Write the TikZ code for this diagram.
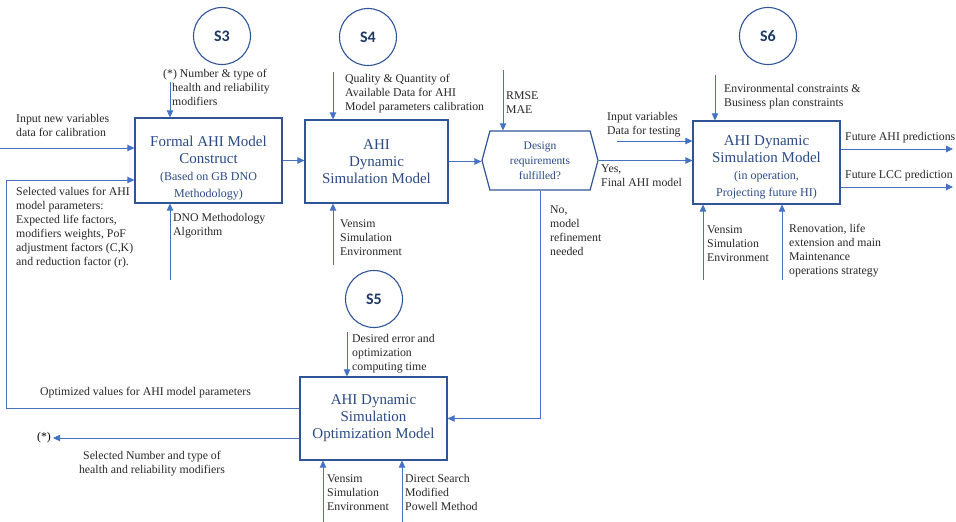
\documentclass[tikz,border=0pt]{standalone}
\usepackage{fontspec}
\setmainfont{Liberation Serif}
\newfontfamily\carlito{Carlito}
\usetikzlibrary{arrows.meta,shapes.symbols}
\definecolor{linkblue}{HTML}{4472C4}
\definecolor{boxblue}{HTML}{2F5597}
\definecolor{textblue}{HTML}{2B4A86}
\definecolor{stagenavy}{HTML}{1F3864}

\begin{document}
\begin{tikzpicture}[x=1pt,y=-1pt]
	\tikzstyle{stage}=[circle,draw=boxblue,line width=1.1pt,minimum size=57pt,inner sep=0pt,text=stagenavy,font=\carlito\bfseries\fontsize{16}{16}\selectfont]
	\tikzstyle{block}=[rectangle,draw=boxblue,line width=1.2pt,inner sep=0pt,align=center,text=textblue,font=\fontsize{15}{17}\selectfont]
	\tikzstyle{decision}=[signal,signal to=west and east,signal pointer angle=150,draw=boxblue,line width=1.2pt,inner sep=0pt,minimum width=116pt,minimum height=59pt,align=center,text=textblue,font=\fontsize{11.5}{15}\selectfont]
	\tikzstyle{note}=[anchor=north west,align=left,inner sep=0pt,text=black!85,font=\fontsize{11.8}{14}\selectfont]
	\tikzstyle{edge}=[draw=linkblue,line width=0.9pt,-{Triangle[length=7pt,width=6.5pt]}]

	\useasboundingbox (0,0) rectangle (956,522);

	\begin{scope}
		% stages
		\node [stage] (s3) at (222,36) {S3};
		\node [stage] (s4) at (368,37) {S4};
		\node [stage] (s6) at (768,36) {S6};
		\node [stage] (s5) at (374,299) {S5};

		% models
		\node [block,minimum width=147pt,minimum height=85pt] (formal) at (208.5,160.5)
			{\rule{0pt}{25pt}Formal AHI Model\\Construct\\\fontsize{12}{14.5}\selectfont (Based on GB DNO\\\fontsize{12}{14.5}\selectfont Methodology)};
		\node [block,minimum width=143pt,minimum height=83pt] (dynsim) at (376.5,161.5)
			{AHI\\Dynamic\\Simulation Model};
		\node [decision] (design) at (540,160.5) {Design\\requirements\\fulfilled?};
		\node [block,minimum width=147pt,minimum height=83pt] (operation) at (766.5,162.5)
			{\rule{0pt}{19pt}AHI Dynamic\\Simulation Model\\\fontsize{12}{14.5}\selectfont (in operation,\\\fontsize{12}{14.5}\selectfont Projecting future HI)};
		\node [block,minimum width=147pt,minimum height=83pt] (optim) at (373.5,418.5)
			{AHI Dynamic\\Simulation\\Optimization Model};

		% inputs and outputs
		\node [note] (numtype) at (163,69) {(*) Number \& type  of\\\hspace*{9pt}health and reliability\\\hspace*{9pt}modifiers};
		\node [note] (newin) at (16,114) {Input new variables\\data for calibration};
		\node [note] (selvals) at (16,187) {Selected values for AHI\\model  parameters:\\Expected life factors,\\modifiers weights, PoF\\adjustment factors (C,K)\\and reduction factor (r).};
		\node [note] (dno) at (173,213) {DNO Methodology\\Algorithm};
		\node [note] (quality) at (345,74) {Quality \& Quantity of\\Available Data for AHI\\Model parameters calibration};
		\node [note] (vensimA) at (340,219) {Vensim\\Simulation\\Environment};
		\node [note] (errs) at (506,91) {RMSE\\MAE};
		\node [note] (no) at (550,206) {No,\\model\\refinement\\needed};
		\node [note] (yes) at (601,165) {Yes,\\Final AHI model};
		\node [note] (testin) at (607,112) {Input variables\\Data for testing};
		\node [note] (constr) at (724,84) {Environmental constraints \&\\Business plan constraints};
		\node [note] (futahi) at (845,132) {Future AHI predictions};
		\node [note] (futlcc) at (845,170) {Future LCC prediction};
		\node [note] (vensimB) at (707,225) {Vensim\\Simulation\\Environment};
		\node [note] (renov) at (789,224) {Renovation, life\\extension and main\\Maintenance\\operations strategy};
		\node [note] (desired) at (352,334) {Desired error and\\optimization\\computing time};
		\node [note] (optvals) at (40,387) {Optimized values for AHI model parameters};
		\node [note,anchor=north,align=center] (selnum) at (152,451) {Selected Number and type of\\health and reliability modifiers};
		\node [note] (vensimC) at (327,474) {Vensim\\Simulation\\Environment};
		\node [note] (search) at (405,474) {Direct Search\\Modified\\Powell Method};
		\node [inner sep=2pt,font=\fontsize{11.8}{14}\selectfont] (star) at (44,438) {(*)};

		\coordinate (numA) at (170,82);
		\coordinate (newA) at (0,148);
		\coordinate (dnoA) at (170,280);
		\coordinate (qualA) at (333,72);
		\coordinate (vensA) at (333,265);
		\coordinate (errA) at (503,70);
		\coordinate (testA) at (617,141);
		\coordinate (constA) at (715,75);
		\coordinate (vensB) at (703,280);
		\coordinate (renovA) at (782,280);
		\coordinate (ahiOut) at (953,149);
		\coordinate (lccOut) at (953,187);
		\coordinate (desA) at (347,332);
		\coordinate (vensC) at (323,522);
		\coordinate (searchA) at (402,522);
		\coordinate (fbLow) at (6,408);
		\coordinate (fbHigh) at (6,180);

		\path [edge] (numA) -- (numA |- formal.north);
		\path [edge] (newA) -- (newA -| formal.west);
		\path [edge] (dnoA) -- (dnoA |- formal.south);
		\path [edge] (formal.east) -- (dynsim.west |- formal.east);
		\path [edge] (qualA) -- (qualA |- dynsim.north);
		\path [edge] (vensA) -- (vensA |- dynsim.south);
		\path [edge] (dynsim.east) -- (design.west |- dynsim.east);
		\path [edge] (errA) -- (errA |- design.north);
		\path [edge] (design.east) -- (operation.west |- design.east);
		\path [edge] (design.south) |- (optim.east);
		\path [edge] (testA) -- (testA -| operation.west);
		\path [edge] (constA) -- (constA |- operation.north);
		\path [edge] (vensB) -- (vensB |- operation.south);
		\path [edge] (renovA) -- (renovA |- operation.south);
		\path [edge] (ahiOut -| operation.east) -- (ahiOut);
		\path [edge] (lccOut -| operation.east) -- (lccOut);
		\path [edge] (desA) -- (desA |- optim.north);
		\path [edge] (vensC) -- (vensC |- optim.south);
		\path [edge] (searchA) -- (searchA |- optim.south);
		\path [edge] (fbLow -| optim.west) -- (fbLow) -- (fbHigh) -- (fbHigh -| formal.west);
		\path [edge] (star -| optim.west) -- (star.east);
	\end{scope}
\end{tikzpicture}
\end{document}
